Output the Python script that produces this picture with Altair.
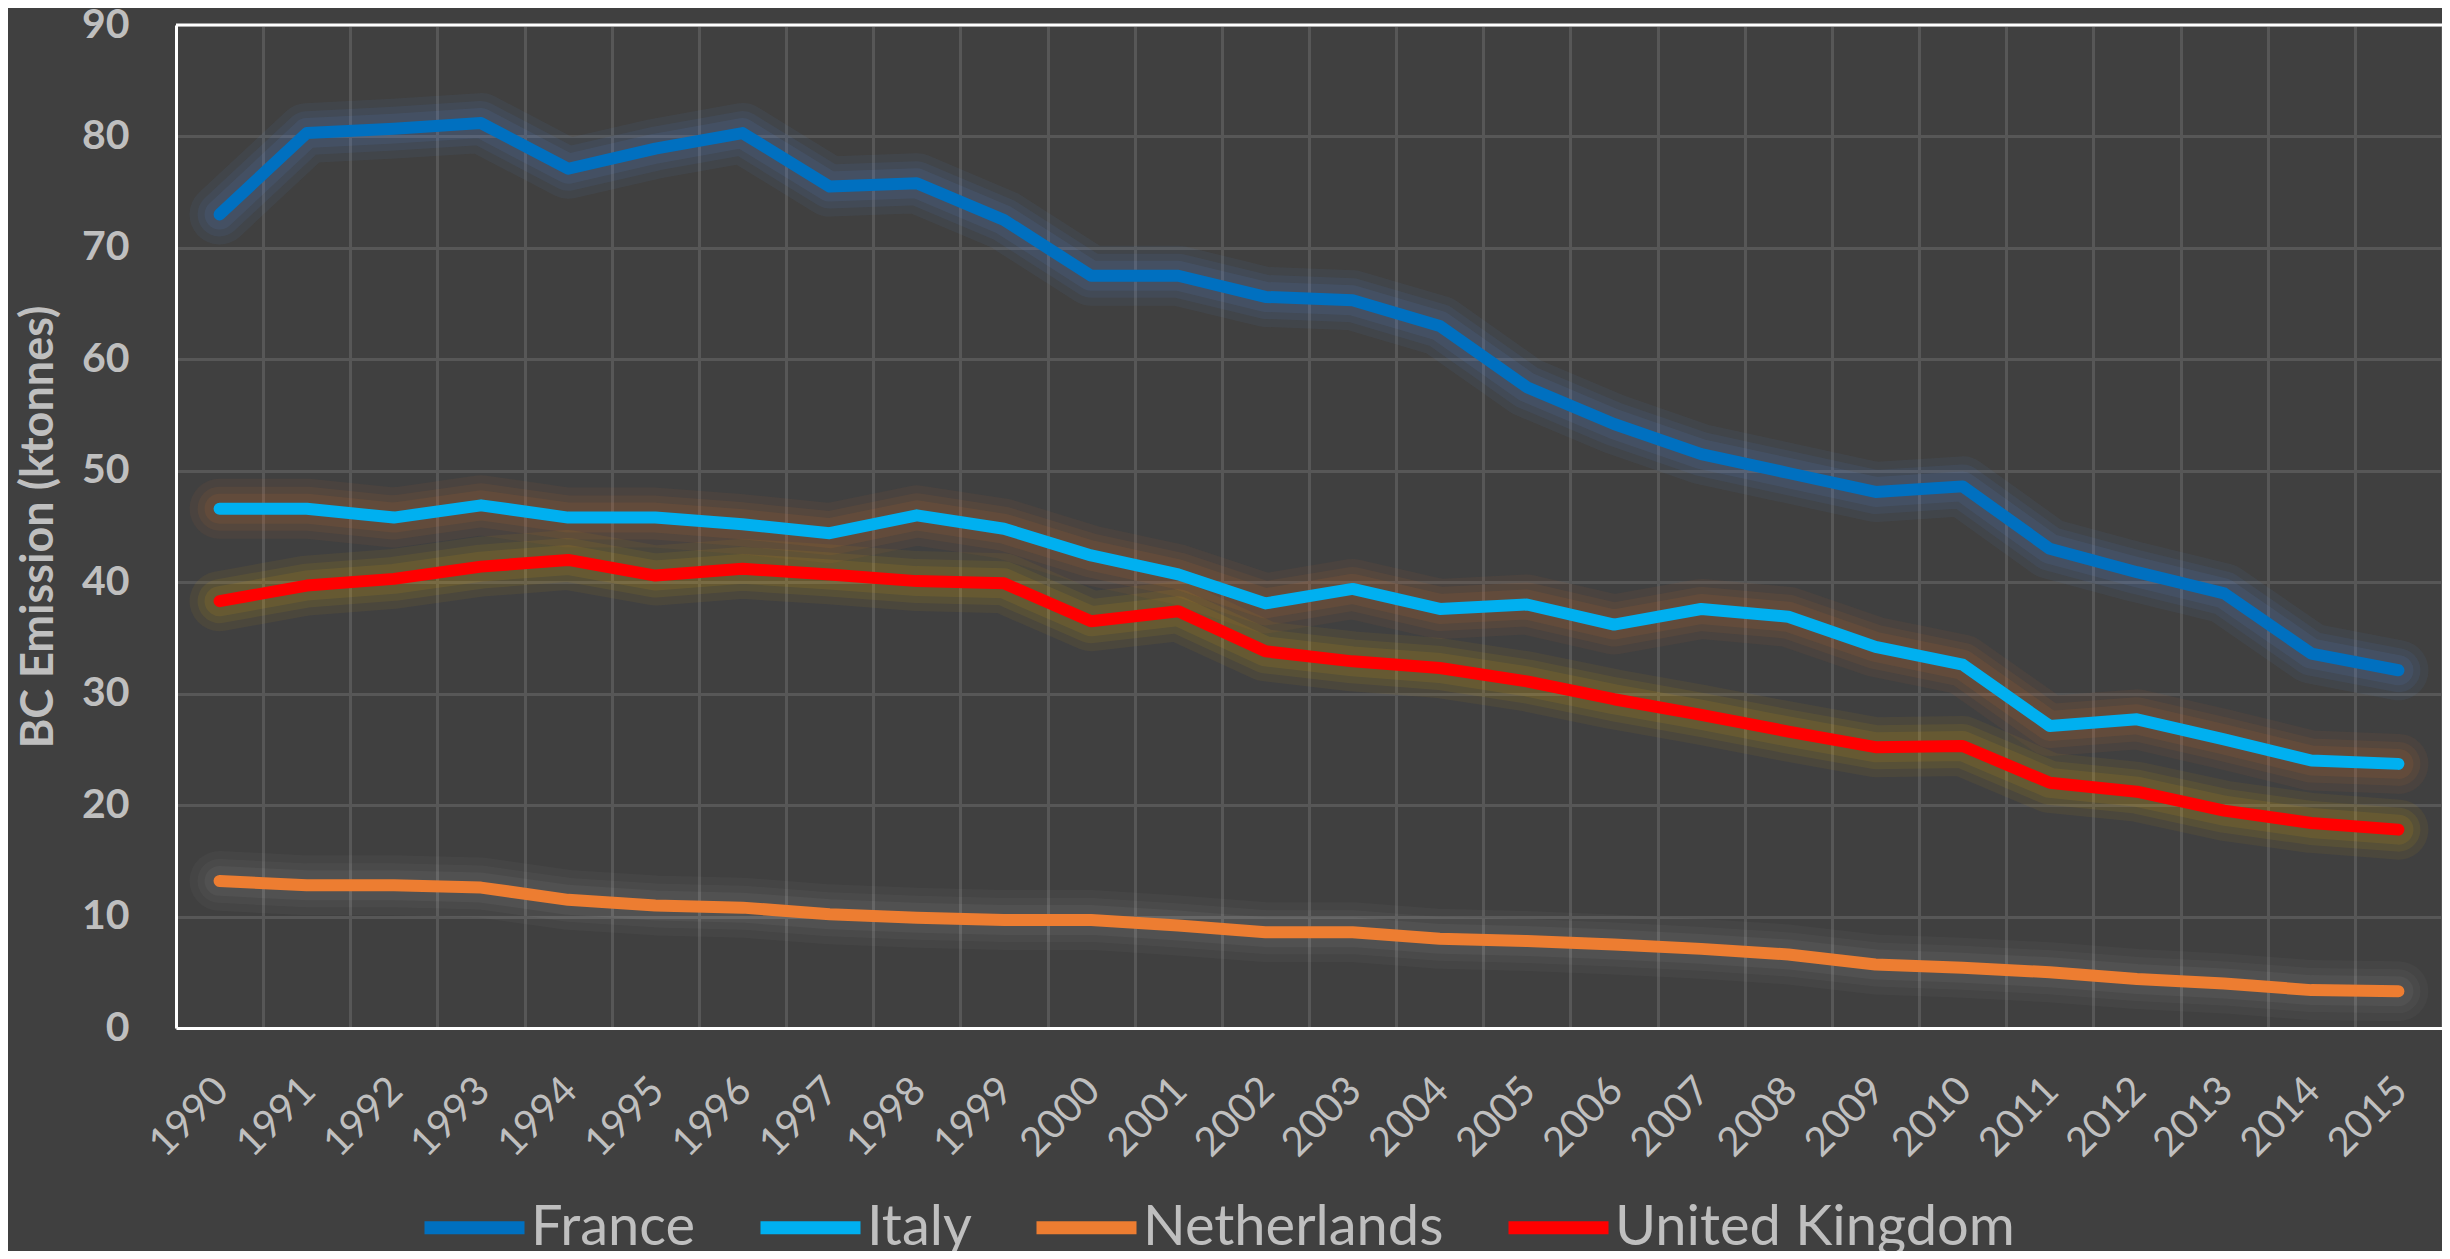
import altair as alt
import pandas as pd

years = ["1990", "1991", "1992", "1993", "1994", "1995", "1996", "1997", "1998", "1999",
         "2000", "2001", "2002", "2003", "2004", "2005", "2006", "2007", "2008", "2009",
         "2010", "2011", "2012", "2013", "2014", "2015"]

countries = ["France", "Italy", "Netherlands", "United Kingdom"]

france = [73.0, 80.3, 80.7, 81.2, 77.1, 78.9, 80.3, 75.5, 75.8, 72.5,
          67.5, 67.5, 65.6, 65.3, 63.0, 57.5, 54.2, 51.5, 49.8, 48.1,
          48.6, 43.0, 40.9, 39.0, 33.6, 32.1]
italy = [46.6, 46.6, 45.8, 46.9, 45.8, 45.8, 45.2, 44.4, 46.0, 44.8,
         42.4, 40.7, 38.1, 39.4, 37.6, 38.0, 36.2, 37.6, 36.9, 34.2,
         32.6, 27.1, 27.7, 25.9, 24.0, 23.7]
netherlands = [13.2, 12.8, 12.8, 12.6, 11.5, 11.0, 10.8, 10.2, 9.9, 9.7,
               9.7, 9.2, 8.6, 8.6, 8.0, 7.8, 7.5, 7.1, 6.6, 5.7,
               5.4, 5.0, 4.4, 4.0, 3.4, 3.3]
uk = [38.3, 39.7, 40.3, 41.4, 42.0, 40.6, 41.2, 40.7, 40.1, 39.9,
      36.5, 37.4, 33.8, 32.9, 32.3, 31.1, 29.5, 28.1, 26.6, 25.2,
      25.3, 22.0, 21.2, 19.5, 18.4, 17.8]

y_ticks = [0, 10, 20, 30, 40, 50, 60, 70, 80, 90]

series = {"France": france, "Italy": italy, "Netherlands": netherlands, "United Kingdom": uk}
rows = []
for c in countries:
    for yr, v in zip(years, series[c]):
        rows.append({"year": yr, "country": c, "value": v})
df = pd.DataFrame(rows)

line_colors = ["#0070C0", "#00B0F0", "#ED7D31", "#FF0000"]
glow_colors = {"France": "#5B8FE0", "Italy": "#ED7D31", "Netherlands": "#FFFFFF", "United Kingdom": "#FFC000"}
glow_strength = {"France": 1.1, "Italy": 1.0, "Netherlands": 0.45, "United Kingdom": 1.0}

FONT = "Lato"
LABEL = "#bfbfbf"
GRID = "#575757"

x_enc = alt.X(
    "year:O",
    sort=years,
    bandPosition=0.5,
    scale=alt.Scale(type="band", paddingInner=0, paddingOuter=0),
    axis=alt.Axis(
        title=None,
        tickBand="extent",
        grid=True,
        gridColor=GRID,
        gridWidth=3,
        ticks=False,
        tickSize=0,
        domain=True,
        domainColor="#ffffff",
        domainWidth=3,
        labelAngle=-45,
        labelFont=FONT,
        labelFontSize=40,
        labelColor=LABEL,
        labelPadding=42,
        labelOffset=-12,
    ),
)
y_scale = alt.Scale(domain=[y_ticks[0], y_ticks[-1]], nice=False)
y_enc = alt.Y(
    "value:Q",
    scale=y_scale,
    axis=alt.Axis(
        title="BC Emission (ktonnes)",
        titleFont=FONT,
        titleFontSize=45,
        titleFontWeight="bold",
        titleColor=LABEL,
        titlePadding=20,
        values=y_ticks,
        grid=True,
        gridColor=GRID,
        gridWidth=3,
        ticks=False,
        tickSize=0,
        domain=True,
        domainColor="#ffffff",
        domainWidth=3,
        labelFont=FONT,
        labelFontSize=41,
        labelFontWeight="bold",
        labelColor=LABEL,
        labelPadding=47,
    ),
)

base = alt.Chart(df)

glow_layers = []
for width, op in [(60, 0.06), (44, 0.07), (30, 0.09)]:
    for c in countries:
        glow_layers.append(
            base.transform_filter(alt.datum.country == c)
            .mark_line(strokeWidth=width, strokeCap="round", strokeJoin="round",
                       color=glow_colors[c], opacity=op * glow_strength[c])
            .encode(x=x_enc, y=y_enc, detail="country:N")
        )

main = base.mark_line(strokeWidth=12, strokeCap="round", strokeJoin="round").encode(
    x=x_enc,
    y=y_enc,
    color=alt.Color(
        "country:N",
        sort=countries,
        scale=alt.Scale(domain=countries, range=line_colors),
        legend=alt.Legend(
            title=None,
            orient="none",
            legendX=242,
            legendY=1146,
            padding=0,
            direction="horizontal",
            symbolType="stroke",
            symbolStrokeWidth=13,
            symbolSize=10000,
            symbolOpacity=1,
            labelFont=FONT,
            labelFontSize=56,
            labelColor=LABEL,
            labelOffset=0,
            columnPadding=38,
            labelLimit=700,
        ),
    ),
)

top_border = alt.Chart(pd.DataFrame({"value": [y_ticks[-1]]})).mark_rule(
    color="#ffffff", strokeWidth=3
).encode(y=y_enc)

chart = alt.layer(*glow_layers, main, top_border).properties(
    width=2266,
    height=1003,
    background="#404040",
    padding={"left": 168, "top": 17, "right": 0, "bottom": 223},
    autosize=alt.AutoSizeParams(type="none"),
).configure_view(stroke=None)

chart.save("out.html", embed_options={"renderer": "svg", "actions": False})
